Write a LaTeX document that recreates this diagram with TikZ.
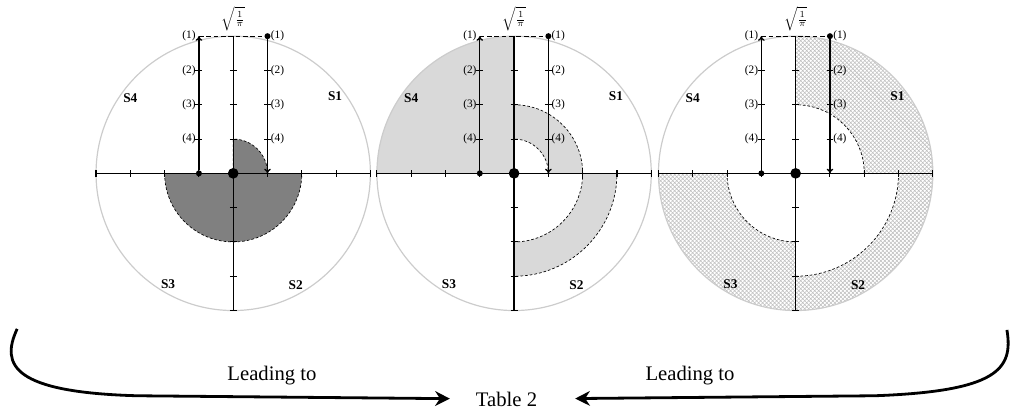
\documentclass[tikz,border=0pt]{standalone}
\usepackage{fontspec}
\setmainfont{Liberation Serif}
\usetikzlibrary{arrows.meta,patterns}
\begin{document}
\begin{tikzpicture}[
    x=25.7pt, y=25.7pt,
    rim/.style={draw=gray!40, line width=0.9pt},
    axisline/.style={black, line width=1pt},
    tickmark/.style={black, line width=0.8pt},
    guide/.style={black, line width=1pt, -{To[length=3.5pt,width=5pt]}},
    topdash/.style={black, line width=1pt, dash pattern=on 3.5pt off 2pt},
    region/.style={dashed, line width=0.5pt, dash pattern=on 2pt off 1.5pt},
    darkzone/.style={fill=black!50, draw=black, region},
    lightzone/.style={fill=black!15},
    hatchzone/.style={pattern=crosshatch, pattern color=gray!50},
    dot/.style={circle, fill=black, inner sep=0pt, minimum size=4.5pt},
    bigdot/.style={circle, fill=black, inner sep=0pt, minimum size=8pt},
    lvl/.style={font=\fontsize{8.5}{10}\selectfont, inner sep=1pt},
    sector/.style={font=\fontsize{10}{12}\selectfont\bfseries},
    rootlabel/.style={font=\fontsize{9.5}{11}\selectfont, inner sep=0pt},
    caption/.style={font=\fontsize{15.5}{18}\selectfont},
    flow/.style={line width=2.1pt, -{Stealth[length=11pt,width=11pt,inset=3.5pt]}}
]
\useasboundingbox (0,0) rectangle (29.45,12.16);

% Panel 1 shading
\begin{scope}[shift={(6.80,7.105)}]
  \filldraw[darkzone] (0,0) -- (1,0) arc (0:90:1) -- cycle;
  \filldraw[darkzone] (-2,0) arc (180:360:2) -- cycle;
\end{scope}

% Panel 2 shading
\begin{scope}[shift={(14.99,7.105)}]
  \fill[lightzone] (0,0) -- (-4,0) arc (180:90:4) -- cycle;
  \filldraw[lightzone, region] (1,0) -- (2,0) arc (0:90:2) -- (0,1) arc (90:0:1) -- cycle;
  \filldraw[lightzone, region] (2,0) -- (3,0) arc (0:-90:3) -- (0,-2) arc (-90:0:2) -- cycle;
\end{scope}

% Panel 3 shading
\begin{scope}[shift={(23.20,7.105)}]
  \fill[hatchzone] (0,2) -- (0,4) arc (90:0:4) -- (2,0) arc (0:90:2) -- cycle;
  \fill[hatchzone] (3,0) -- (4,0) arc (0:-90:4) -- (0,-3) arc (-90:0:3) -- cycle;
  \fill[hatchzone] (0,-2) -- (0,-4) arc (-90:-180:4) -- (-2,0) arc (180:270:2) -- cycle;
  \draw[region] (2,0) arc (0:90:2);
  \draw[region] (3,0) arc (0:-90:3);
  \draw[region] (-2,0) arc (180:270:2);
\end{scope}

% Circles, axes and guide lines
\foreach \cx [count=\k] in {6.80,14.99,23.20} {
  \begin{scope}[shift={(\cx,7.105)}]
    \draw[rim] (0,0) circle (4);
    \draw[axisline] (-4,0) -- (4,0);
    \draw[axisline] (0,-4) -- (0,4);
    \foreach \t in {-4,-3,-2,-1,1,2,3,4}
      \draw[tickmark] (\t,-0.1) -- (\t,0.1);
    \foreach \t in {-4,-3,-2,-1,1,2,3}
      \draw[tickmark] (-0.1,\t) -- (0.1,\t);

    \node[bigdot] (o\k) at (0,0) {};
    \node[dot] (lo\k) at (-1,0) {};
    \node[dot] (rt\k) at (1,4) {};
    \coordinate (lt\k) at (-1,4);
    \coordinate (rb\k) at (1,0);
    \draw[guide] (lo\k) -- (lt\k);
    \draw[guide] (rt\k) -- (rb\k);
    \draw[topdash] (lt\k) -- (rt\k);
    \foreach \t in {1,2,3} {
      \draw[tickmark] (-1.1,\t) -- (-0.9,\t);
      \draw[tickmark] (0.9,\t) -- (1.1,\t);
    }

    % level labels
    \foreach \n/\y in {1/4,2/3,3/2,4/1} {
      \node[lvl, anchor=east] (l\k\n) at (-1.05,\y) {(\n)};
      \node[lvl, anchor=west] (r\k\n) at (1.05,\y) {(\n)};
    }
    \node[rootlabel, anchor=south] (root\k) at (0,4.15) {$\sqrt{\frac{1}{\pi}}$};

    % sectors
    \node[sector] (sa\k) at (2.97,2.25) {S1};
    \node[sector] (sb\k) at (1.82,-3.27) {S2};
    \node[sector] (sc\k) at (-1.90,-3.22) {S3};
    \node[sector] (sd\k) at (-3.00,2.20) {S4};
  \end{scope}
}

% Bottom arrows
\node[caption] (tab) at (14.77,0.52) {Table 2};
\node[caption] (leadl) at (7.93,1.22) {Leading to};
\node[caption] (leadr) at (20.12,1.22) {Leading to};
\coordinate (lstart) at (0.50,2.57);
\coordinate (rstart) at (29.36,2.54);
\draw[flow, shorten >=16pt] (lstart) .. controls (0.0,1.5) and (0.4,0.72) .. (4.0,0.62) -- (tab);
\draw[flow, shorten >=25pt] (rstart) .. controls (29.55,1.4) and (29.1,0.75) .. (25.5,0.62) -- (tab);

\end{tikzpicture}
\end{document}
